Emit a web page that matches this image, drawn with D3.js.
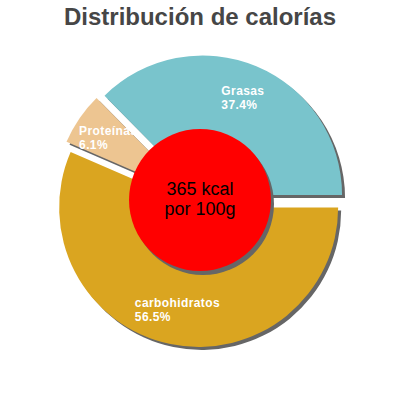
<!DOCTYPE html>
<html>
<head>
<meta charset="utf-8">
<script src="https://cdn.jsdelivr.net/npm/d3@7"></script>
<style>
  html, body { margin: 0; padding: 0; background: #fff; }
  svg { display: block; }
</style>
</head>
<body>
<svg id="chart" width="400" height="400"></svg>
<script>
const title = "Distribución de calorías";
const categories = ["carbohidratos", "Proteínas", "Grasas"];
const percents = [56.5, 6.1, 37.4];
const colors = ["#daa520", "#edc591", "#79c4cc"];
const centerLines = ["365 kcal", "por 100g"];

const W = 400, H = 400;
const cx = 200, cy = 201;
const R = 139.5, explode = 6.6, innerR = 71;
const svg = d3.select("#chart");

svg.append("text")
  .attr("x", W / 2).attr("y", 25)
  .attr("text-anchor", "middle")
  .attr("font-family", "Liberation Sans, Arial, sans-serif")
  .attr("font-weight", "bold")
  .attr("font-size", 24)
  .attr("fill", "#464646")
  .text(title);

const data = categories.map((c, i) => ({ name: c, value: percents[i], color: colors[i] }));
const pie = d3.pie().value(d => d.value).sort(null)
  .startAngle(Math.PI / 2).endAngle(Math.PI / 2 + 2 * Math.PI);
const arcs = pie(data);
const arc = d3.arc().innerRadius(0).outerRadius(R);

const g = svg.append("g").attr("transform", `translate(${cx},${cy})`);

function off(d) {
  const m = (d.startAngle + d.endAngle) / 2;
  return [explode * Math.sin(m), -explode * Math.cos(m)];
}

// shadows
g.selectAll("path.shadow").data(arcs).join("path")
  .attr("class", "shadow")
  .attr("d", arc)
  .attr("fill", "#666")
  .attr("transform", d => { const o = off(d); return `translate(${o[0] + 3},${o[1] + 3})`; });

// slices
g.selectAll("path.slice").data(arcs).join("path")
  .attr("class", "slice")
  .attr("d", arc)
  .attr("fill", d => d.data.color)
  .attr("transform", d => { const o = off(d); return `translate(${o[0]},${o[1]})`; });

// labels
const labelR = R * 0.75;
arcs.forEach(d => {
  const m = (d.startAngle + d.endAngle) / 2;
  const o = off(d);
  const px = o[0] + labelR * Math.sin(m);
  const py = o[1] - labelR * Math.cos(m);
  const t = g.append("text")
    .attr("font-family", "Liberation Sans, Arial, sans-serif")
    .attr("font-weight", "bold")
    .attr("font-size", 12)
    .attr("letter-spacing", 0.4)
    .attr("fill", "#fff");
  const l1 = t.append("tspan").text(d.data.name);
  const l2 = t.append("tspan").text(d.data.value.toFixed(1) + "%");
  const w = Math.max(l1.node().getComputedTextLength(), l2.node().getComputedTextLength());
  const x0 = px - w / 2;
  l1.attr("x", x0).attr("y", py - 3);
  l2.attr("x", x0).attr("y", py + 11);
});

// center circle
g.append("circle").attr("cx", 3).attr("cy", 3).attr("r", innerR).attr("fill", "#666");
g.append("circle").attr("cx", 0).attr("cy", -1).attr("r", innerR).attr("fill", "#ff0000");
const ct = g.append("text")
  .attr("text-anchor", "middle")
  .attr("font-family", "Liberation Sans, Arial, sans-serif")
  .attr("font-size", 18)
  .attr("fill", "#000");
centerLines.forEach((s, i) => {
  ct.append("tspan").attr("x", 0).attr("y", -6 + i * 20).text(s);
});
</script>
</body>
</html>
